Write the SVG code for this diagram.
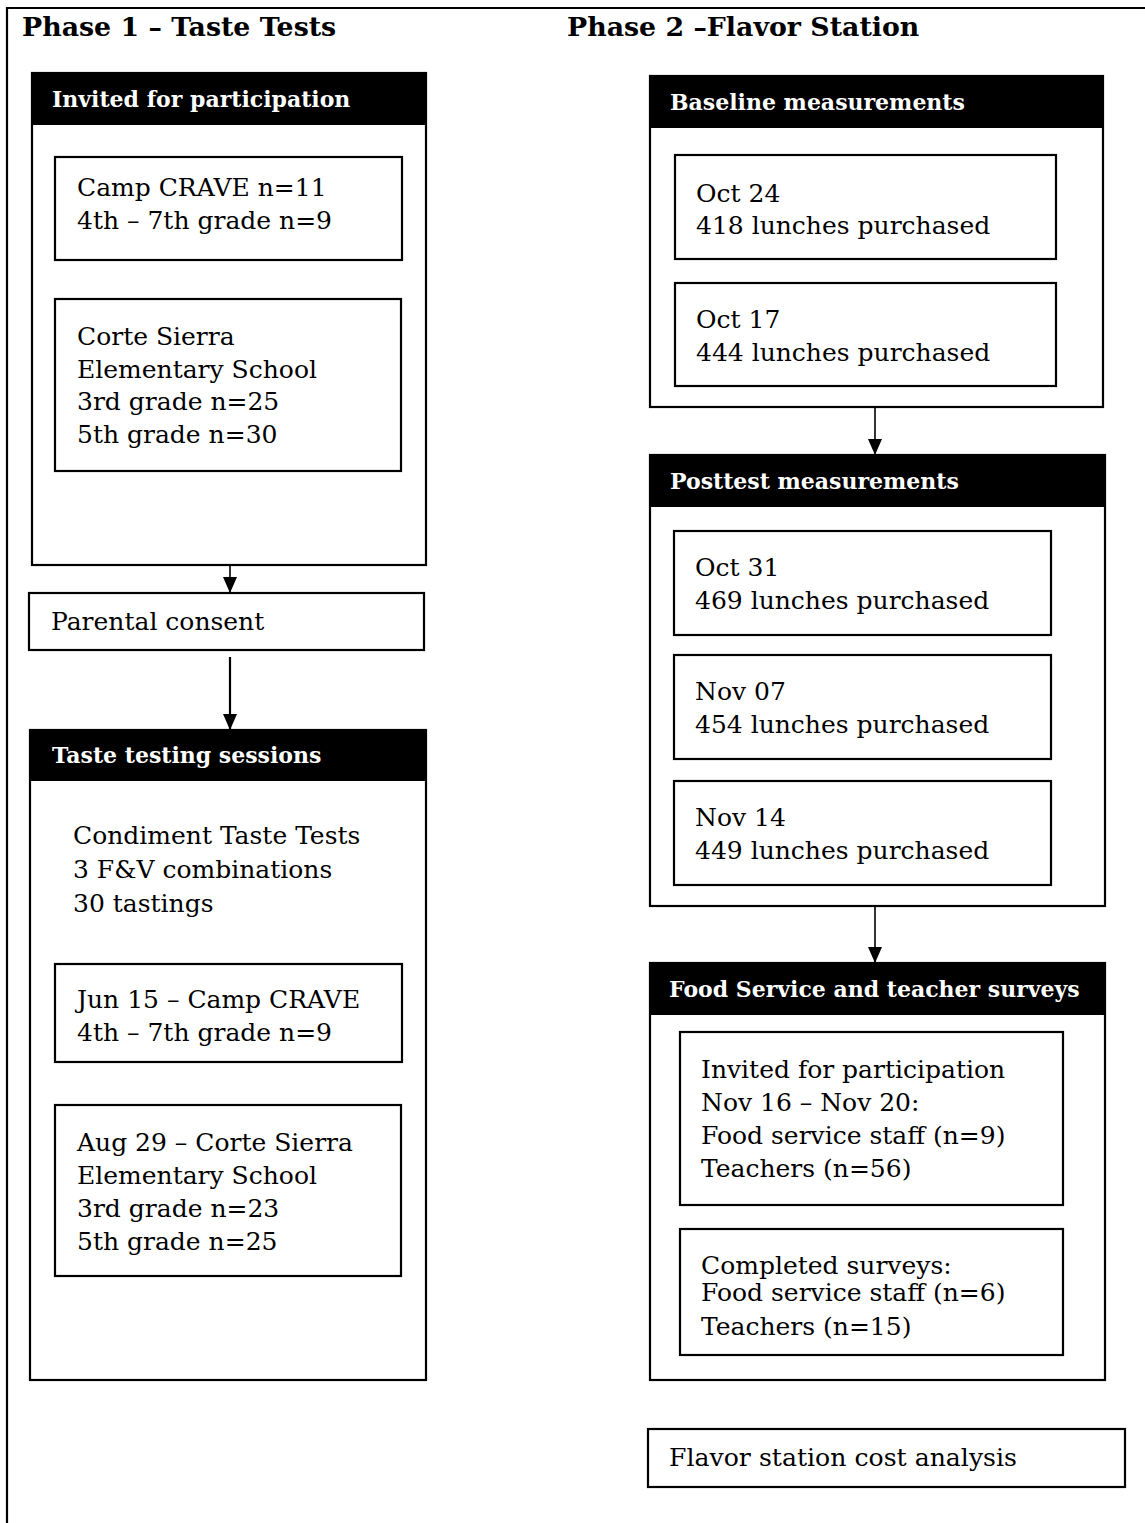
<svg xmlns="http://www.w3.org/2000/svg" width="1145" height="1523" viewBox="0 0 1145 1523">
<style>
.t{font-family:"DejaVu Serif","Liberation Serif",serif;font-size:25px;fill:#000}
.h{font-family:"DejaVu Serif","Liberation Serif",serif;font-size:22px;font-weight:bold;fill:#fff}
.ph{font-family:"DejaVu Serif","Liberation Serif",serif;font-size:26.8px;font-weight:bold;fill:#000}
.box{fill:#fff;stroke:#000;stroke-width:2.2}
.hdr{fill:#000}
.con{stroke:#000;stroke-width:1.6;fill:none}
</style>
<defs>
<marker id="ah" viewBox="0 0 16 14" refX="16" refY="7" markerWidth="16" markerHeight="14" markerUnits="userSpaceOnUse" orient="auto">
<path d="M0,0 L16,7 L0,14 Z" fill="#000"/>
</marker>
</defs>
<rect width="1145" height="1523" fill="#fff"/>
<g id="frame">
<path d="M7,1523 V8 H1145" fill="none" stroke="#000" stroke-width="2.2"/>
</g>
<g id="titles">
<text class="ph" x="22" y="36">Phase 1 – Taste Tests</text>
<text class="ph" x="567" y="36">Phase 2 –Flavor Station</text>
</g>
<g id="invited">
<rect class="box" x="32" y="73" width="394" height="492"/>
<rect class="hdr" x="32" y="73" width="394" height="52"/>
<text class="h" x="52" y="107">Invited for participation</text>
</g>
<g id="camp1">
<rect class="box" x="55" y="157" width="347" height="103"/>
<text class="t" x="77" y="196">Camp CRAVE n=11</text>
<text class="t" x="77" y="229">4th – 7th grade n=9</text>
</g>
<g id="corte1">
<rect class="box" x="55" y="299" width="346" height="172"/>
<text class="t" x="77" y="345">Corte Sierra</text>
<text class="t" x="77" y="378">Elementary School</text>
<text class="t" x="77" y="410">3rd grade n=25</text>
<text class="t" x="77" y="443">5th grade n=30</text>
</g>
<g id="consent">
<rect class="box" x="29" y="593" width="395" height="57"/>
<text class="t" x="51" y="630">Parental consent</text>
</g>
<g id="sessions">
<rect class="box" x="30" y="730" width="396" height="650"/>
<rect class="hdr" x="30" y="730" width="396" height="51"/>
<text class="h" x="52" y="763">Taste testing sessions</text>
<text class="t" x="73" y="844">Condiment Taste Tests</text>
<text class="t" x="73" y="878">3 F&amp;V combinations</text>
<text class="t" x="73" y="912">30 tastings</text>
</g>
<g id="jun15">
<rect class="box" x="55" y="964" width="347" height="98"/>
<text class="t" x="77" y="1008">Jun 15 – Camp CRAVE</text>
<text class="t" x="77" y="1041">4th – 7th grade n=9</text>
</g>
<g id="aug29">
<rect class="box" x="55" y="1105" width="346" height="171"/>
<text class="t" x="77" y="1151">Aug 29 – Corte Sierra</text>
<text class="t" x="77" y="1184">Elementary School</text>
<text class="t" x="77" y="1217">3rd grade n=23</text>
<text class="t" x="77" y="1250">5th grade n=25</text>
</g>
<g id="baseline">
<rect class="box" x="650" y="76" width="453" height="331"/>
<rect class="hdr" x="650" y="76" width="453" height="52"/>
<text class="h" x="670" y="110">Baseline measurements</text>
</g>
<g id="oct24">
<rect class="box" x="675" y="155" width="381" height="104"/>
<text class="t" x="696" y="202">Oct 24</text>
<text class="t" x="696" y="234">418 lunches purchased</text>
</g>
<g id="oct17">
<rect class="box" x="675" y="283" width="381" height="103"/>
<text class="t" x="696" y="328">Oct 17</text>
<text class="t" x="696" y="361">444 lunches purchased</text>
</g>
<g id="posttest">
<rect class="box" x="650" y="455" width="455" height="451"/>
<rect class="hdr" x="650" y="455" width="455" height="52"/>
<text class="h" x="670" y="489">Posttest measurements</text>
</g>
<g id="oct31">
<rect class="box" x="674" y="531" width="377" height="104"/>
<text class="t" x="695" y="576">Oct 31</text>
<text class="t" x="695" y="609">469 lunches purchased</text>
</g>
<g id="nov07">
<rect class="box" x="674" y="655" width="377" height="104"/>
<text class="t" x="695" y="700">Nov 07</text>
<text class="t" x="695" y="733">454 lunches purchased</text>
</g>
<g id="nov14">
<rect class="box" x="674" y="781" width="377" height="104"/>
<text class="t" x="695" y="826">Nov 14</text>
<text class="t" x="695" y="859">449 lunches purchased</text>
</g>
<g id="surveys">
<rect class="box" x="650" y="963" width="455" height="417"/>
<rect class="hdr" x="650" y="963" width="455" height="52"/>
<text class="h" x="669" y="997">Food Service and teacher surveys</text>
</g>
<g id="invited2">
<rect class="box" x="680" y="1032" width="383" height="173"/>
<text class="t" x="701" y="1078">Invited for participation</text>
<text class="t" x="701" y="1111">Nov 16 – Nov 20:</text>
<text class="t" x="701" y="1144">Food service staff (n=9)</text>
<text class="t" x="701" y="1177">Teachers (n=56)</text>
</g>
<g id="completed">
<rect class="box" x="680" y="1229" width="383" height="126"/>
<text class="t" x="701" y="1274">Completed surveys:</text>
<text class="t" x="701" y="1301">Food service staff (n=6)</text>
<text class="t" x="701" y="1335">Teachers (n=15)</text>
</g>
<g id="cost">
<rect class="box" x="648" y="1429" width="477" height="58"/>
<text class="t" x="669" y="1466" textLength="348" lengthAdjust="spacingAndGlyphs">Flavor station cost analysis</text>
</g>
<g id="connectors">
<line class="con" x1="230" y1="565" x2="230" y2="593" marker-end="url(#ah)"/>
<line class="con" x1="230" y1="657" x2="230" y2="730" marker-end="url(#ah)" style="stroke-width:2.2"/>
<line class="con" x1="875" y1="407" x2="875" y2="455" marker-end="url(#ah)"/>
<line class="con" x1="875" y1="906" x2="875" y2="963" marker-end="url(#ah)"/>
</g>
</svg>
